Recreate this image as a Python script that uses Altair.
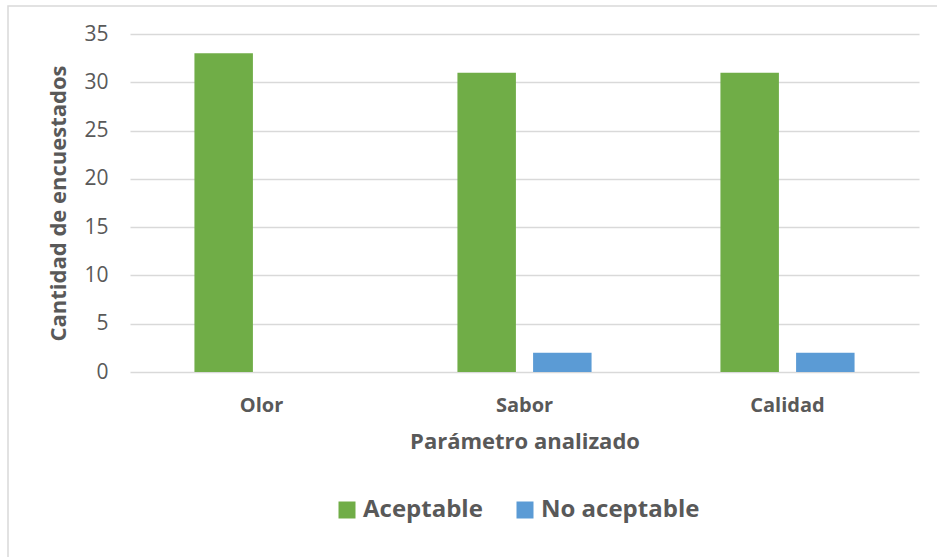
import altair as alt
import pandas as pd

categories = ["Olor", "Sabor", "Calidad"]
series = ["Aceptable", "No aceptable"]
aceptable = [33, 31, 31]
no_aceptable = [0, 2, 2]

rows = []
for c, a, n in zip(categories, aceptable, no_aceptable):
    rows.append({"Parámetro": c, "Serie": "Aceptable", "Cantidad": a})
    rows.append({"Parámetro": c, "Serie": "No aceptable", "Cantidad": n})
df = pd.DataFrame(rows)

FONT = "Open Sans"
TXT = "#595959"
W, H = 789, 338
PL, PT = 130, 34
PR, PB = 937 - PL - W, 557 - PT - H

bars = alt.Chart(df).mark_bar().encode(
    x=alt.X("Parámetro:N", sort=categories,
            scale=alt.Scale(paddingInner=0.49, paddingOuter=0.245),
            axis=alt.Axis(title="Parámetro analizado", labelAngle=0, domain=False, ticks=False,
                          labelFontSize=20, labelFontWeight="bold", labelColor=TXT, labelFont=FONT,
                          labelPadding=23, titleFontSize=22, titleFontWeight="bold", titleColor=TXT,
                          titleFont=FONT, titlePadding=16)),
    xOffset=alt.XOffset("Serie:N", sort=series,
                        scale=alt.Scale(paddingInner=0.227, paddingOuter=0)),
    y=alt.Y("Cantidad:Q", scale=alt.Scale(domain=[0, 35], nice=False),
            axis=alt.Axis(title="Cantidad de encuestados", values=[0, 5, 10, 15, 20, 25, 30, 35],
                          domain=False, ticks=False, gridColor="#D9D9D9", gridWidth=1.3,
                          labelFontSize=21, labelColor=TXT, labelFont=FONT, labelPadding=22,
                          titleFontSize=22, titleFontWeight="bold", titleColor=TXT, titleFont=FONT,
                          titlePadding=13)),
    color=alt.Color("Serie:N", sort=series,
                    scale=alt.Scale(domain=series, range=["#70AD47", "#5B9BD5"]),
                    legend=alt.Legend(title=None, orient="none", legendX=205, legendY=464,
                                      direction="horizontal", symbolType="square", symbolSize=289,
                                      symbolStrokeWidth=0, labelFontSize=24, labelFontWeight="bold",
                                      labelColor=TXT, labelFont=FONT, labelOffset=4,
                                      columnPadding=30)),
)

frame = alt.Chart(pd.DataFrame({"k": [0]})).mark_rect(
    fill=None, stroke="#D9D9D9", strokeWidth=1.5, clip=False
).encode(
    x=alt.value(8 - PL), x2=alt.value(W + 40),
    y=alt.value(6 - PT), y2=alt.value(H + PB + 40),
)

chart = alt.layer(frame, bars).properties(
    width=W, height=H,
    autosize=alt.AutoSizeParams(type="none"),
    padding={"left": PL, "top": PT, "right": PR, "bottom": PB},
    background="white",
).configure_view(stroke=None)

chart.save("out.html", embed_options={"renderer": "svg", "actions": False})
